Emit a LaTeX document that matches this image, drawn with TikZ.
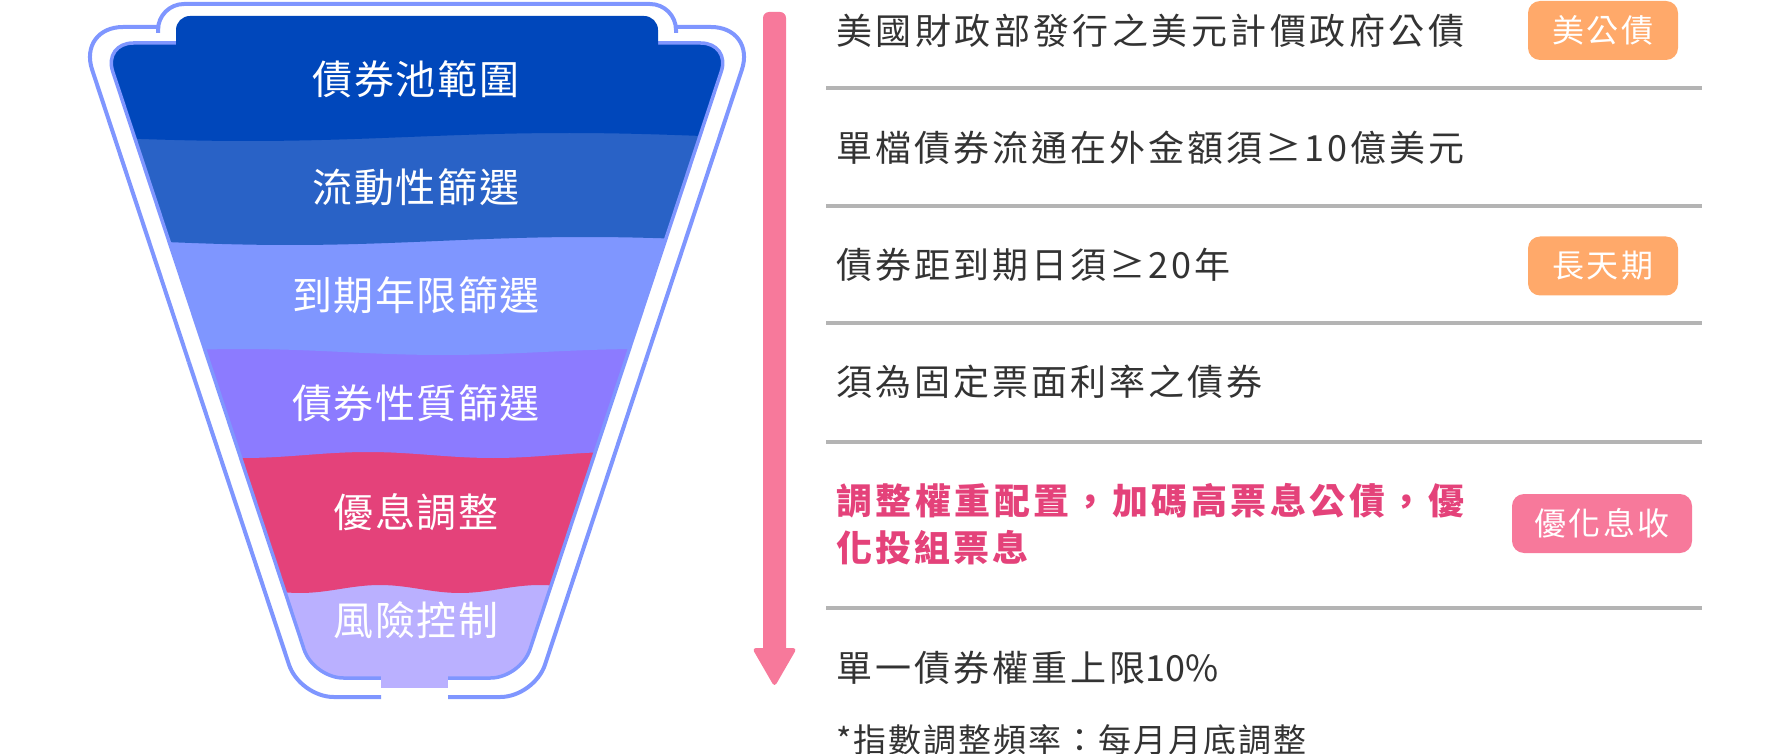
\documentclass[tikz,border=0pt]{standalone}
\usepackage{fontspec}
\setmainfont{Noto Sans CJK TC}
\newfontfamily\lblfont[LetterSpace=4]{Noto Sans CJK TC}
\newfontfamily\bodyfont[LetterSpace=8.5]{Noto Sans CJK TC}
\newfontfamily\notefont[LetterSpace=6]{Noto Sans CJK TC}
\newfontfamily\tagfont[LetterSpace=8]{Noto Sans CJK TC}
\definecolor{Lone}{HTML}{0047BB}
\definecolor{Ltwo}{HTML}{2962C6}
\definecolor{Lthree}{HTML}{7F96FF}
\definecolor{Lfour}{HTML}{8C7BFF}
\definecolor{Lfive}{HTML}{E4427A}
\definecolor{Lsix}{HTML}{BAB0FF}
\definecolor{rimc}{HTML}{7F96FF}
\definecolor{tagorange}{HTML}{FFA96A}
\definecolor{tagpink}{HTML}{F7799B}
\definecolor{txt}{HTML}{333333}
\definecolor{pinktxt}{HTML}{E4427A}
\definecolor{rulec}{HTML}{B4B4B4}
\tikzset{
  lbl/.style={text=white, font=\lblfont\fontsize{40pt}{48pt}\selectfont, inner sep=0pt},
  body/.style={text=txt, font=\bodyfont\fontsize{36pt}{42pt}\selectfont, anchor=west, inner sep=0pt},
  pinkbody/.style={body, text=pinktxt, font=\bodyfont\bfseries\fontsize{36pt}{42pt}\selectfont},
  note/.style={body, font=\notefont\fontsize{33pt}{40pt}\selectfont},
  tagbox/.style={rounded corners=12pt, text=white, font=\tagfont\fontsize{32pt}{38pt}\selectfont,
    minimum width=150pt, minimum height=59pt, inner sep=0pt},
  rulel/.style={draw=rulec, line width=4pt},
  rim/.style={draw=rimc, line width=4pt},
}
\begin{document}
\begin{tikzpicture}[x=1pt,y=-1pt]
\useasboundingbox (0,0) rectangle (1792,754);
% ---------- funnel layers ----------
\begin{scope}
  \clip[rounded corners=30pt] (417,43) -- (103.3,43) -- (313.5,678) -- (520.5,678) -- (730.7,43) -- cycle;
  \fill[Lsix] (40,-20) rectangle (800,760);
  \fill[Lfive] (40,-20) -- plot[domain=40:800,samples=120] (\x,{589+4*cos(2.25*(\x-460))}) -- (800,-20) -- cycle;
  \fill[Lfour] (40,-20) -- plot[domain=40:800,samples=120] (\x,{455+3*cos(1.44*(\x-493))}) -- (800,-20) -- cycle;
  \fill[Lthree] (40,-20) -- plot[domain=40:800,samples=120] (\x,{352+3*cos(0.9*(\x-443))}) -- (800,-20) -- cycle;
  \fill[Ltwo] (40,-20) -- plot[domain=40:800,samples=120] (\x,{241+4*cos(0.61*(\x-290))}) -- (800,-20) -- cycle;
  \fill[Lone] (40,-20) -- plot[domain=40:800,samples=120] (\x,{137+4*cos(0.5625*(\x-248))}) -- (800,-20) -- cycle;
\end{scope}
\draw[draw=rimc, line width=3.5pt, rounded corners=30pt] (417,43) -- (103.3,43) -- (313.5,678) -- (520.5,678) -- (730.7,43) -- cycle;
% tab and spout
\fill[Lone, rounded corners=14pt] (176,16) rectangle (658,80);
\fill[Lsix] (381,665) rectangle (448,688);
% outer outline
\draw[rim, rounded corners=34pt] (381,697) -- (299.7,697) -- (188.85,362);
\draw[rim, rounded corners=45pt] (188.85,362) -- (78,27) -- (160,27);
\draw[rim, rounded corners=26pt] (158,33) -- (158,4) -- (676,4) -- (676,33);
\draw[rim, rounded corners=45pt] (674,27) -- (756,27) -- (645.15,362);
\draw[rim, rounded corners=34pt] (645.15,362) -- (534.3,697) -- (448,697);
% funnel labels
\node[lbl] (f1) at (416,79) {債券池範圍};
\node[lbl] (f2) at (416,187) {流動性篩選};
\node[lbl] (f3) at (416,295) {到期年限篩選};
\node[lbl] (f4) at (416,403) {債券性質篩選};
\node[lbl] (f5) at (416,512) {優息調整};
\node[lbl] (f6) at (416,620) {風險控制};
% arrow
\coordinate (atop) at (774.5,12);
\coordinate (atip) at (774.5,687);
\fill[tagpink, rounded corners=6pt] (atop) ++(-11.5,0) rectangle (786,660);
\fill[tagpink, rounded corners=4pt] (752,648) -- (797,648) -- (atip) -- cycle;
% rules
\draw[rulel] (826,88) -- (1702,88);
\draw[rulel] (826,206) -- (1702,206);
\draw[rulel] (826,323) -- (1702,323);
\draw[rulel] (826,442) -- (1702,442);
\draw[rulel] (826,608) -- (1702,608);
% texts
\node[body] (t1) at (836,31) {\makebox[628pt][s]{美\hfil 國\hfil 財\hfil 政\hfil 部\hfil 發\hfil 行\hfil 之\hfil 美\hfil 元\hfil 計\hfil 價\hfil 政\hfil 府\hfil 公\hfil 債}};
\node[body] (t2) at (836,148) {\makebox[628pt][s]{單\hfil 檔\hfil 債\hfil 券\hfil 流\hfil 通\hfil 在\hfil 外\hfil 金\hfil 額\hfil 須\hfil ≥10\hfil 億\hfil 美\hfil 元}};
\node[body] (t3) at (836,265) {債券距到期日須≥20年};
\node[body] (t4) at (836,382) {須為固定票面利率之債券};
\node[pinkbody] (t5) at (836,501) {\makebox[628pt][s]{調\hfil 整\hfil 權\hfil 重\hfil 配\hfil 置\hfil ，\hfil 加\hfil 碼\hfil 高\hfil 票\hfil 息\hfil 公\hfil 債\hfil ，\hfil 優}};
\node[pinkbody] (t5b) at (836,548) {化投組票息};
\node[body] (t6) at (836,668) {單一債券權重上限{\addfontfeature{LetterSpace=0}10\%}};
\node[note] (t7) at (836,740) {*指數調整頻率：每月月底調整};
% tags
\node[tagbox, fill=tagorange] (g1) at (1603,30.5) {美公債};
\node[tagbox, fill=tagorange] (g2) at (1603,266) {長天期};
\node[tagbox, fill=tagpink, minimum width=180pt] (g3) at (1602,523.5) {優化息收};
\end{tikzpicture}
\end{document}
